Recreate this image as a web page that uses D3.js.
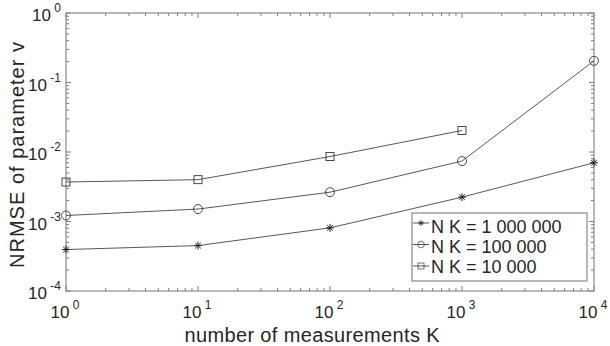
<!DOCTYPE html>
<html>
<head>
<meta charset="utf-8">
<script src="https://cdn.jsdelivr.net/npm/d3@7"></script>
<style>
body { margin: 0; background: #fff; }
text { font-family: "Liberation Sans", Arial, sans-serif; fill: #262626; }
</style>
</head>
<body>
<div id="chart"></div>
<script>
var xTicks = [1, 10, 100, 1000, 10000];
var yTicks = [1e-4, 1e-3, 1e-2, 1e-1, 1];
var xExp = ["0", "1", "2", "3", "4"];
var yExp = ["-4", "-3", "-2", "-1", "0"];

var kMillion = [1, 10, 100, 1000, 10000];
var vMillion = [3.95e-4, 4.5e-4, 8.1e-4, 2.24e-3, 7.0e-3];
var kHundredK = [1, 10, 100, 1000, 10000];
var vHundredK = [1.22e-3, 1.51e-3, 2.64e-3, 7.4e-3, 0.205];
var kTenK = [1, 10, 100, 1000];
var vTenK = [3.7e-3, 4.0e-3, 8.6e-3, 2.04e-2];

var seriesNames = ["N K = 1 000 000", "N K = 100 000", "N K = 10 000"];
var seriesMarkers = ["star", "circle", "square"];

function init() {
	var width = 610;
	var height = 346;
	var left = 66, right = 594, top = 13, bottom = 291;

	var xScale = d3.scaleLog().domain([1, 10000]).range([left, right]);
	var yScale = d3.scaleLog().domain([1e-4, 1]).range([bottom, top]);

	var svg = d3.select("#chart").append("svg")
		.attr("width", width)
		.attr("height", height);

	// minor and major ticks, drawn on all four sides, pointing in
	var minorX = [], minorY = [];
	for (var e = 0; e < 4; e++) {
		for (var m = 2; m < 10; m++) {
			minorX.push(m * Math.pow(10, e));
			minorY.push(m * Math.pow(10, e - 4));
		}
	}
	var tickG = svg.append("g").attr("stroke", "#555").attr("stroke-width", 0.8);
	minorX.forEach(function(v) {
		var x = xScale(v);
		tickG.append("line").attr("x1", x).attr("x2", x).attr("y1", bottom).attr("y2", bottom - 3);
		tickG.append("line").attr("x1", x).attr("x2", x).attr("y1", top).attr("y2", top + 3);
	});
	minorY.forEach(function(v) {
		var y = yScale(v);
		tickG.append("line").attr("x1", left).attr("x2", left + 3).attr("y1", y).attr("y2", y);
		tickG.append("line").attr("x1", right).attr("x2", right - 3).attr("y1", y).attr("y2", y);
	});
	xTicks.forEach(function(v) {
		var x = xScale(v);
		tickG.append("line").attr("x1", x).attr("x2", x).attr("y1", bottom).attr("y2", bottom - 5);
		tickG.append("line").attr("x1", x).attr("x2", x).attr("y1", top).attr("y2", top + 5);
	});
	yTicks.forEach(function(v) {
		var y = yScale(v);
		tickG.append("line").attr("x1", left).attr("x2", left + 5).attr("y1", y).attr("y2", y);
		tickG.append("line").attr("x1", right).attr("x2", right - 5).attr("y1", y).attr("y2", y);
	});

	// box
	svg.append("rect")
		.attr("x", left).attr("y", top)
		.attr("width", right - left).attr("height", bottom - top)
		.attr("fill", "none").attr("stroke", "#8a8a8a").attr("stroke-width", 1.2);

	// tick labels
	xTicks.forEach(function(v, i) {
		var t = svg.append("text")
			.attr("x", xScale(v) - 1)
			.attr("y", 318)
			.attr("text-anchor", "middle")
			.attr("font-size", "17px");
		t.append("tspan").text("10");
		t.append("tspan").attr("dy", -9).attr("font-size", "12px").text(" " + xExp[i]);
	});
	yTicks.forEach(function(v, i) {
		var t = svg.append("text")
			.attr("x", 61)
			.attr("y", yScale(v) + 8)
			.attr("text-anchor", "end")
			.attr("font-size", "17px");
		t.append("tspan").text("10");
		t.append("tspan").attr("dy", -9).attr("font-size", "12px").text(" " + yExp[i]);
	});

	// axis titles
	svg.append("text")
		.attr("x", 312).attr("y", 342)
		.attr("text-anchor", "middle")
		.attr("font-size", "20px")
		.attr("textLength", 255)
		.attr("lengthAdjust", "spacing")
		.text("number of measurements K");
	svg.append("text")
		.attr("transform", "translate(24,155) rotate(-90)")
		.attr("text-anchor", "middle")
		.attr("font-size", "20px")
		.attr("textLength", 226)
		.attr("lengthAdjust", "spacing")
		.text("NRMSE of parameter v");

	var series = [
		{ k: kMillion, v: vMillion },
		{ k: kHundredK, v: vHundredK },
		{ k: kTenK, v: vTenK }
	];

	var line = d3.line()
		.x(function(d) { return xScale(d[0]); })
		.y(function(d) { return yScale(d[1]); });

	function drawMarker(g, type, x, y) {
		if (type == "circle") {
			g.append("circle").attr("cx", x).attr("cy", y).attr("r", 4.5)
				.attr("fill", "none").attr("stroke", "#333").attr("stroke-width", 0.9);
		} else if (type == "square") {
			g.append("rect").attr("x", x - 4).attr("y", y - 4).attr("width", 8).attr("height", 8)
				.attr("fill", "none").attr("stroke", "#333").attr("stroke-width", 0.9);
		} else {
			var r = 4;
			[0, 45, 90, 135].forEach(function(a) {
				var rad = a * Math.PI / 180;
				g.append("line")
					.attr("x1", x - r * Math.cos(rad)).attr("y1", y - r * Math.sin(rad))
					.attr("x2", x + r * Math.cos(rad)).attr("y2", y + r * Math.sin(rad))
					.attr("stroke", "#222").attr("stroke-width", 1);
			});
		}
	}

	series.forEach(function(s, si) {
		var pts = s.k.map(function(k, i) { return [k, s.v[i]]; });
		svg.append("path")
			.datum(pts)
			.attr("d", line)
			.attr("fill", "none")
			.attr("stroke", "#444")
			.attr("stroke-width", 0.9);
		var g = svg.append("g");
		pts.forEach(function(p) {
			drawMarker(g, seriesMarkers[si], xScale(p[0]), yScale(p[1]));
		});
	});

	// legend
	var lg = svg.append("g");
	lg.append("rect")
		.attr("x", 412).attr("y", 213)
		.attr("width", 175).attr("height", 68)
		.attr("fill", "#fff").attr("stroke", "#8a8a8a").attr("stroke-width", 1.2);
	seriesNames.forEach(function(name, i) {
		var y = 223 + i * 21.5;
		lg.append("line").attr("x1", 413).attr("x2", 429).attr("y1", y).attr("y2", y)
			.attr("stroke", "#444").attr("stroke-width", 0.9);
		var mg = lg.append("g").attr("transform", "translate(421," + y + ") scale(0.75) translate(-421," + (-y) + ")");
		drawMarker(mg, seriesMarkers[i], 421, y);
		lg.append("text")
			.attr("x", 431).attr("y", 233 + i * 20)
			.attr("font-size", "18px")
			.text(name);
	});
}
window.onload = init;
</script>
</body>
</html>
